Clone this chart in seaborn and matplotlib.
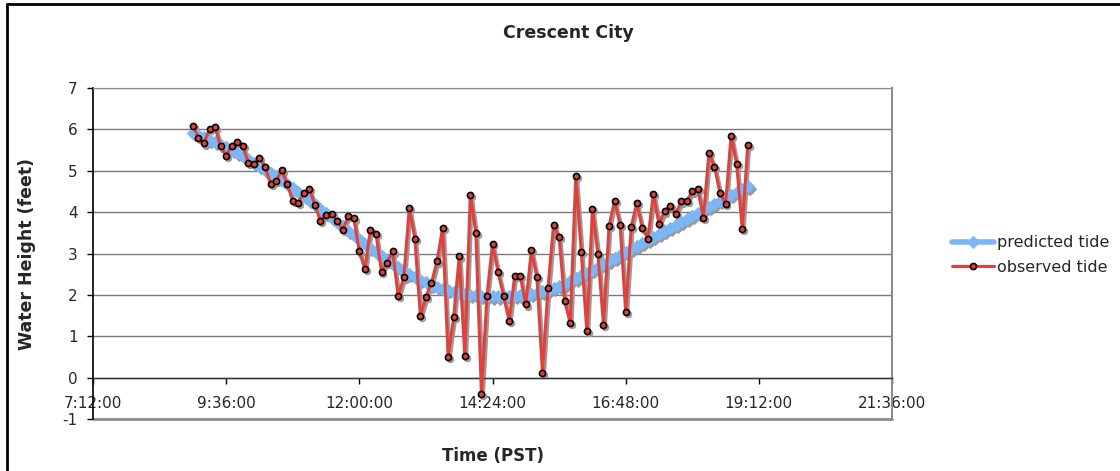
import numpy as np
import pandas as pd
import matplotlib
matplotlib.use("Agg")
import matplotlib.pyplot as plt
from matplotlib.lines import Line2D
from matplotlib.transforms import offset_copy
import seaborn as sns

# ---------------- data ----------------
times = pd.date_range("2000-01-01 09:00", periods=101, freq="6min")

predicted_tide = [
    5.92, 5.87, 5.815, 5.755, 5.695, 5.63, 5.565, 5.495, 5.425, 5.35,
    5.275, 5.197, 5.117, 5.035, 4.95, 4.862, 4.772, 4.68, 4.585, 4.488,
    4.388, 4.287, 4.185, 4.082, 3.978, 3.873, 3.767, 3.661, 3.555, 3.449,
    3.344, 3.24, 3.138, 3.038, 2.941, 2.847, 2.757, 2.671, 2.589, 2.511,
    2.438, 2.37, 2.307, 2.249, 2.199, 2.154, 2.114, 2.079, 2.049, 2.024,
    2.004, 1.988, 1.976, 1.968, 1.963, 1.961, 1.961, 1.965, 1.973, 1.985,
    2.001, 2.023, 2.051, 2.085, 2.125, 2.17, 2.22, 2.275, 2.335, 2.40,
    2.47, 2.54, 2.61, 2.68, 2.752, 2.824, 2.896, 2.968, 3.04, 3.112,
    3.184, 3.256, 3.328, 3.40, 3.472, 3.544, 3.616, 3.688, 3.76, 3.832,
    3.904, 3.976, 4.048, 4.12, 4.192, 4.264, 4.336, 4.408, 4.48, 4.552,
    4.624,
]

observed_tide = [
    6.09, 5.80, 5.66, 6.01, 6.05, 5.59, 5.36, 5.61, 5.69, 5.60,
    5.19, 5.16, 5.32, 5.09, 4.68, 4.75, 5.01, 4.68, 4.27, 4.23,
    4.46, 4.56, 4.17, 3.78, 3.92, 3.96, 3.79, 3.57, 3.90, 3.85,
    3.05, 2.62, 3.58, 3.47, 2.56, 2.78, 3.05, 1.97, 2.42, 4.10,
    3.36, 1.50, 1.95, 2.29, 2.81, 3.62, 0.51, 1.46, 2.93, 0.52,
    4.42, 3.49, -0.40, 1.98, 3.23, 2.55, 1.97, 1.37, 2.46, 2.45,
    1.77, 3.08, 2.43, 0.11, 2.17, 3.69, 3.40, 1.85, 1.32, 4.87,
    3.03, 1.13, 4.07, 2.99, 1.27, 3.67, 4.27, 3.69, 1.58, 3.65,
    4.22, 3.61, 3.36, 4.44, 3.71, 4.02, 4.15, 3.95, 4.26, 4.27,
    4.50, 4.57, 3.86, 5.43, 5.10, 4.46, 4.20, 5.85, 5.16, 3.60,
    5.62,
]

x_ticks_hours = [7.2, 9.6, 12.0, 14.4, 16.8, 19.2, 21.6]
x_tick_labels = ["7:12:00", "9:36:00", "12:00:00", "14:24:00",
                 "16:48:00", "19:12:00", "21:36:00"]
y_ticks = [-1, 0, 1, 2, 3, 4, 5, 6, 7]

title = "Crescent City"
x_label = "Time (PST)"
y_label = "Water Height (feet)"
series_names = ["predicted tide", "observed tide"]

# ---------------- build frame ----------------
hours = times.hour + times.minute / 60.0
df = pd.DataFrame({"hours": hours,
                   "predicted": predicted_tide,
                   "observed": observed_tide})

sns.set_style("white")
plt.rcParams["font.family"] = ["DejaVu Sans"]
plt.rcParams["axes.unicode_minus"] = False

W, H = 1120, 471
fig = plt.figure(figsize=(W / 100, H / 100), dpi=100)
L, R, T, B = 93, 892, 88, 419
ax = fig.add_axes([L / W, 1 - B / H, (R - L) / W, (B - T) / H])

blue = "#7DB6F5"
red = "#E0423B"
shadow_col = "#9a9a9a"
shadow_tr = offset_copy(ax.transData, fig=fig, x=1.4, y=-1.6, units="points")

# shadows (drawn first, offset down-right)
sns.lineplot(data=df, x="hours", y="predicted", ax=ax, color=shadow_col,
             linewidth=4.0, marker="D", markersize=6.5,
             markeredgecolor=shadow_col, markerfacecolor=shadow_col,
             transform=shadow_tr, zorder=2, legend=False)
sns.lineplot(data=df, x="hours", y="observed", ax=ax, color=shadow_col,
             linewidth=2.2, marker="o", markersize=4.6,
             markeredgecolor=shadow_col, markerfacecolor=shadow_col,
             transform=shadow_tr, zorder=2.5, legend=False)

# series
sns.lineplot(data=df, x="hours", y="predicted", ax=ax, color=blue,
             linewidth=4.0, marker="D", markersize=6.5,
             markeredgecolor=blue, markerfacecolor=blue,
             label=series_names[0], zorder=3)
sns.lineplot(data=df, x="hours", y="observed", ax=ax, color=red,
             linewidth=2.2, marker="o", markersize=4.4,
             markeredgecolor="black", markeredgewidth=1.2,
             markerfacecolor=red,
             label=series_names[1], zorder=4)

ax.set_xlim(7.2, 21.6)
ax.set_ylim(-1, 7)
ax.set_yticks(y_ticks)
ax.set_xticks(x_ticks_hours)
ax.set_xticklabels(x_tick_labels)

# gridlines
for yv in y_ticks:
    ax.axhline(yv, color="#7a7a7a", linewidth=1.0, zorder=1)
ax.axhline(-1, color="#8c8c8c", linewidth=2.0, zorder=1, clip_on=False)

# spines
ax.spines["bottom"].set_position(("data", 0))
ax.spines["bottom"].set_color("#333333")
ax.spines["bottom"].set_linewidth(1.0)
ax.spines["left"].set_color("black")
ax.spines["left"].set_linewidth(1.2)
ax.spines["top"].set_color("#8c8c8c")
ax.spines["right"].set_color("#8c8c8c")
ax.spines["right"].set_linewidth(1.5)

ax.tick_params(axis="x", direction="out", length=4, width=1, color="black",
               labelsize=11, pad=9, bottom=True)
ax.tick_params(axis="y", direction="out", length=4, width=1, color="black",
               labelsize=11, pad=7, left=True)

ax.set_xlabel(x_label, fontsize=12, fontweight="bold")
ax.xaxis.set_label_coords(0.5, (B - 447) / (B - T))
ax.set_ylabel(y_label, fontsize=12.5, fontweight="bold")
ax.yaxis.set_label_coords((36 - L) / (R - L), 0.5)

fig.text(568 / W, 1 - 33 / H, title, ha="center", va="center",
         fontsize=12.5, fontweight="bold")

# legend
handles, labels = ax.get_legend_handles_labels()
if ax.get_legend() is not None:
    ax.get_legend().remove()
fig.legend(handles, labels, loc="center left",
           bbox_to_anchor=(952 / W, 1 - 255 / H), frameon=False,
           fontsize=11.5, handlelength=2.6, handletextpad=0.2,
           labelspacing=0.6, borderpad=0, borderaxespad=0)

# outer chart border (partially cut off at right/bottom)
fig.add_artist(Line2D([7 / W, 7 / W], [0, 1 - 4 / H], transform=fig.transFigure,
                      color="black", linewidth=2.0))
fig.add_artist(Line2D([7 / W, 1], [1 - 4 / H, 1 - 4 / H], transform=fig.transFigure,
                      color="black", linewidth=2.0))

fig.savefig("out.png", dpi=100, facecolor="white")
